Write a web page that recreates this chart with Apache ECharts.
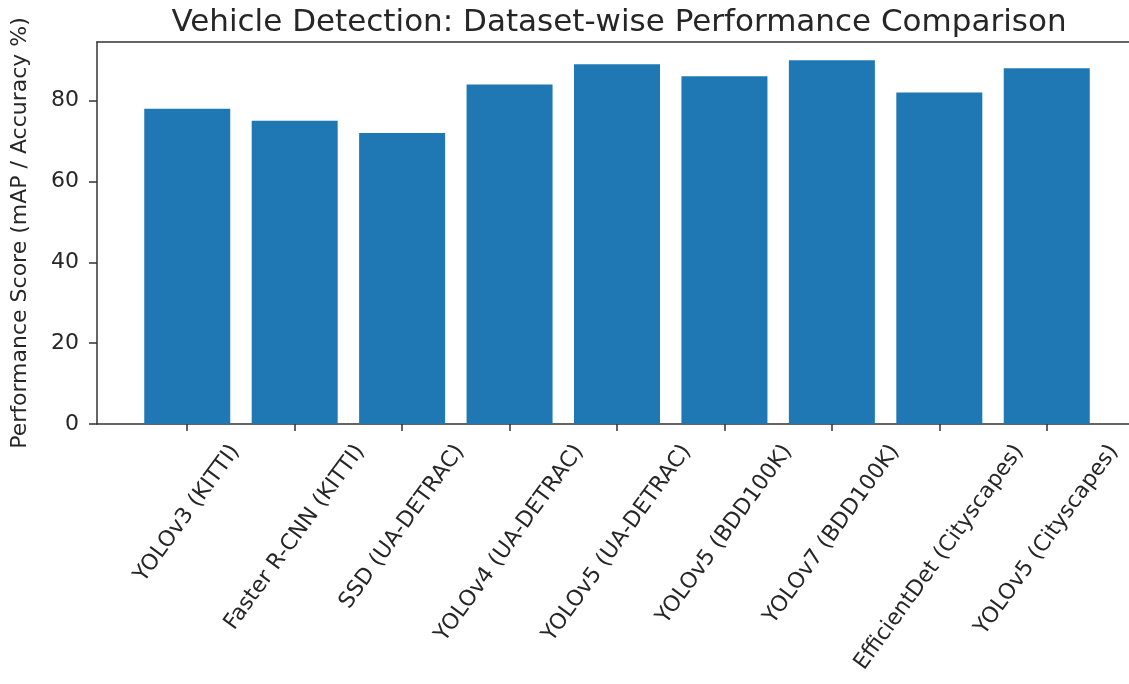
<!DOCTYPE html>
<html>
<head>
<meta charset="utf-8">
<script src="https://cdn.jsdelivr.net/npm/echarts@6/dist/echarts.min.js"></script>
<style>html,body{margin:0;padding:0;background:#fff}#c{width:1129px;height:684px}</style>
</head>
<body>
<div id="c"></div>
<script>
const categories = ["YOLOv3 (KITTI)", "Faster R-CNN (KITTI)", "SSD (UA-DETRAC)", "YOLOv4 (UA-DETRAC)", "YOLOv5 (UA-DETRAC)", "YOLOv5 (BDD100K)", "YOLOv7 (BDD100K)", "EfficientDet (Cityscapes)", "YOLOv5 (Cityscapes)"];
const scores = [78, 75, 72, 84, 89, 86, 90, 82, 88];
const yTicks = [0, 20, 40, 60, 80];
const titleText = "Vehicle Detection: Dataset-wise Performance Comparison";
const yLabel = "Performance Score (mAP / Accuracy %)";

const positions = categories.map((_, i) => i);
const font = "DejaVu Sans";
const ink = "#262626";
const tickFont = 22;
const rot = 54;
const xMin = -0.84, xMax = 8.84;
const gridLeft = 97, gridRight = -8, W = 1129;
const pxPerUnit = (W - gridLeft - gridRight) / (xMax - xMin);

// Place each rotated label so its bounding box is centred under its tick (matplotlib style)
const ctx = document.createElement('canvas').getContext('2d');
ctx.font = tickFont + 'px "' + font + '"';
const th = rot * Math.PI / 180;
const labelPos = categories.map((c, i) => {
  const L = ctx.measureText(c).width;
  const shift = (L * Math.cos(th) - tickFont * Math.sin(th)) / 2;
  return i + shift / pxPerUnit;
});

const chart = echarts.init(document.getElementById('c'), null, {renderer: 'canvas'});
chart.setOption({
  backgroundColor: '#fff',
  animation: false,
  title: {
    text: titleText, left: 614, top: 2, textAlign: 'center',
    textStyle: {fontFamily: font, fontSize: 31, fontWeight: 'normal', color: ink}
  },
  grid: {left: gridLeft, right: gridRight, top: 42, bottom: 260, containLabel: false, outerBoundsMode: 'none'},
  xAxis: [{
    type: 'value', min: xMin, max: xMax,
    splitLine: {show: false},
    axisLine: {onZero: false, lineStyle: {color: '#333', width: 1.5}},
    axisTick: {show: true, length: 7, customValues: positions, lineStyle: {color: '#333', width: 1.5}},
    axisLabel: {
      customValues: labelPos, rotate: rot, margin: 17,
      showMinLabel: true, showMaxLabel: true, hideOverlap: false,
      align: 'right', verticalAlign: 'top', lineHeight: tickFont,
      formatter: v => {
        let best = 0;
        labelPos.forEach((p, i) => { if (Math.abs(p - v) < Math.abs(labelPos[best] - v)) best = i; });
        return categories[best];
      },
      fontFamily: font, fontSize: tickFont, color: ink
    }
  }, {
    type: 'value', position: 'top', min: xMin, max: xMax,
    splitLine: {show: false}, axisTick: {show: false}, axisLabel: {show: false},
    axisLine: {show: true, onZero: false, lineStyle: {color: '#333', width: 1.5}}
  }],
  yAxis: {
    type: 'value', min: 0, max: 94.5,
    name: yLabel, nameLocation: 'middle', nameGap: 66, nameRotate: 90,
    nameTextStyle: {fontFamily: font, fontSize: 22, color: ink},
    splitLine: {show: false},
    axisLine: {show: true, onZero: false, lineStyle: {color: '#333', width: 1.5}},
    axisTick: {show: true, length: 8, customValues: yTicks, lineStyle: {color: '#333', width: 1.5}},
    axisLabel: {customValues: yTicks, margin: 18, showMinLabel: true, fontFamily: font, fontSize: tickFont, color: ink}
  },
  series: [{
    type: 'bar',
    xAxisIndex: 0,
    data: scores.map((v, i) => [i, v]),
    barWidth: 86,
    itemStyle: {color: '#1f77b4'}
  }]
});
</script>
</body>
</html>
